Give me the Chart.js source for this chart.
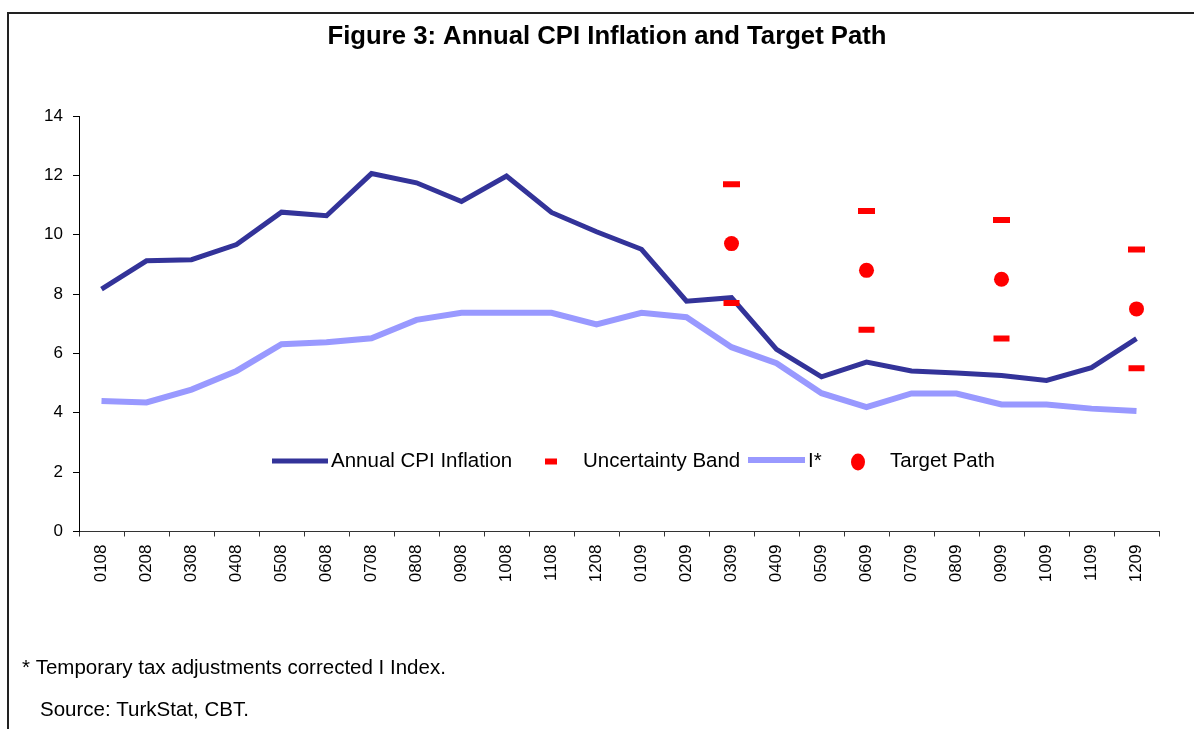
<!DOCTYPE html>
<html>
<head>
<meta charset="utf-8">
<script src="https://cdn.jsdelivr.net/npm/chart.js@4"></script>
<style>
  body { margin: 0; background: #fff; }
  #wrap { width: 1194px; height: 729px; }
</style>
</head>
<body>
<div id="wrap"><canvas id="cpi" width="1194" height="729"></canvas></div>
<script>
// categories (month + year, e.g. 0108 = Jan 2008)
const months = ["0108", "0208", "0308", "0408", "0508", "0608", "0708", "0808", "0908", "1008", "1108", "1208",
  "0109", "0209", "0309", "0409", "0509", "0609", "0709", "0809", "0909", "1009", "1109", "1209"];

// annual CPI inflation (%)
const cpiValues = [8.17, 9.12, 9.16, 9.67, 10.76, 10.64, 12.06, 11.75, 11.12, 11.98, 10.75, 10.10,
  9.51, 7.76, 7.88, 6.14, 5.21, 5.71, 5.41, 5.34, 5.26, 5.09, 5.52, 6.50];

// I* (temporary tax adjustments corrected I index)
const iStarValues = [4.40, 4.35, 4.78, 5.41, 6.31, 6.38, 6.51, 7.13, 7.37, 7.37, 7.37, 6.98,
  7.37, 7.22, 6.21, 5.67, 4.66, 4.19, 4.65, 4.65, 4.28, 4.28, 4.14, 4.06];

// target path and uncertainty band (quarter ends of 2009 only)
const targetValues = [null, null, null, null, null, null, null, null, null, null, null, null,
  null, null, 9.7, null, null, 8.8, null, null, 8.5, null, null, 7.5];
const bandUpper = [null, null, null, null, null, null, null, null, null, null, null, null,
  null, null, 11.7, null, null, 10.8, null, null, 10.5, null, null, 9.5];
const bandLower = [null, null, null, null, null, null, null, null, null, null, null, null,
  null, null, 7.7, null, null, 6.8, null, null, 6.5, null, null, 5.5];

const yTicks = [0, 2, 4, 6, 8, 10, 12, 14];

const FONT = "Arial, 'Liberation Sans', sans-serif";
const darkBlue = "#333399";
const lightBlue = "#9999FF";
const red = "#FF0000";

// title, legend, footnotes and the frame are drawn by hand
const decorations = {
  id: "decorations",
  afterDraw(chart) {
    const ctx = chart.ctx;
    ctx.save();

    // frame (top and left edge)
    ctx.strokeStyle = "#222";
    ctx.lineWidth = 2;
    ctx.beginPath();
    ctx.moveTo(1194, 13);
    ctx.lineTo(8, 13);
    ctx.lineTo(8, 729);
    ctx.stroke();

    // title
    ctx.fillStyle = "#000";
    ctx.font = "bold 25.7px " + FONT;
    ctx.textAlign = "center";
    ctx.textBaseline = "middle";
    ctx.fillText("Figure 3: Annual CPI Inflation and Target Path", 607, 37);

    // legend
    ctx.textAlign = "left";
    ctx.font = "20.5px " + FONT;
    const ly = 461;

    ctx.strokeStyle = darkBlue;
    ctx.lineWidth = 5;
    ctx.beginPath();
    ctx.moveTo(272, ly);
    ctx.lineTo(328, ly);
    ctx.stroke();
    ctx.fillText("Annual CPI Inflation", 331, ly);

    ctx.fillStyle = red;
    ctx.fillRect(545, ly - 2.5, 12, 6);
    ctx.fillStyle = "#000";
    ctx.fillText("Uncertainty Band", 583, ly);

    ctx.strokeStyle = lightBlue;
    ctx.lineWidth = 6;
    ctx.beginPath();
    ctx.moveTo(748, ly - 1);
    ctx.lineTo(805, ly - 1);
    ctx.stroke();
    ctx.fillText("I*", 808, ly);

    ctx.fillStyle = red;
    ctx.beginPath();
    ctx.ellipse(858, ly + 1, 7, 8.5, 0, 0, Math.PI * 2);
    ctx.fill();
    ctx.fillStyle = "#000";
    ctx.fillText("Target Path", 890, ly);

    // footnotes
    ctx.fillText("* Temporary tax adjustments corrected I Index.", 22, 668);
    ctx.fillText("Source: TurkStat, CBT.", 40, 710);

    ctx.restore();
  }
};

const cpiChart = document.getElementById("cpi").getContext("2d");
new Chart(cpiChart, {
  type: "line",
  data: {
    labels: months,
    datasets: [
      {
        label: "Annual CPI Inflation",
        data: cpiValues,
        borderColor: darkBlue,
        borderWidth: 5,
        pointRadius: 0,
        tension: 0,
        order: 2,
      },
      {
        label: "I*",
        data: iStarValues,
        borderColor: lightBlue,
        borderWidth: 6,
        pointRadius: 0,
        tension: 0,
        order: 3,
      },
      {
        label: "Uncertainty Band",
        data: bandUpper,
        showLine: false,
        pointStyle: "line",
        pointRadius: 8.5,
        pointBorderWidth: 6,
        pointBorderColor: red,
        borderColor: red,
        order: 1,
      },
      {
        label: "Uncertainty Band (lower)",
        data: bandLower,
        showLine: false,
        pointStyle: "line",
        pointRadius: 8,
        pointBorderWidth: 6,
        pointBorderColor: red,
        borderColor: red,
        order: 1,
      },
      {
        label: "Target Path",
        data: targetValues,
        showLine: false,
        pointStyle: "circle",
        pointRadius: 7.5,
        pointBackgroundColor: red,
        pointBorderWidth: 0,
        order: 0,
      },
    ],
  },
  options: {
    responsive: false,
    animation: false,
    events: [],
    layout: { padding: { left: 0, top: 116, right: 35, bottom: 0 } },
    plugins: {
      legend: { display: false },
      tooltip: { enabled: false },
      title: { display: false },
    },
    scales: {
      x: {
        offset: true,
        grid: {
          offset: true,
          drawOnChartArea: false,
          drawTicks: true,
          tickLength: 5,
          color: "#333",
        },
        border: { display: true, color: "#333", width: 1 },
        ticks: {
          autoSkip: false,
          maxRotation: 90,
          minRotation: 90,
          padding: 8,
          color: "#000",
          font: { family: FONT, size: 17 },
        },
        afterFit(scale) {
          scale.height = 197.5;
        },
      },
      y: {
        min: 0,
        max: 14,
        afterBuildTicks(scale) {
          scale.ticks = yTicks.map((v) => ({ value: v }));
        },
        grid: {
          drawOnChartArea: false,
          drawTicks: true,
          tickLength: 6,
          color: "#000",
        },
        border: { display: true, color: "#000", width: 1 },
        ticks: {
          padding: 10,
          color: "#000",
          font: { family: FONT, size: 17 },
        },
        afterFit(scale) {
          scale.width = 79;
        },
      },
    },
  },
  plugins: [decorations],
});
</script>
</body>
</html>
